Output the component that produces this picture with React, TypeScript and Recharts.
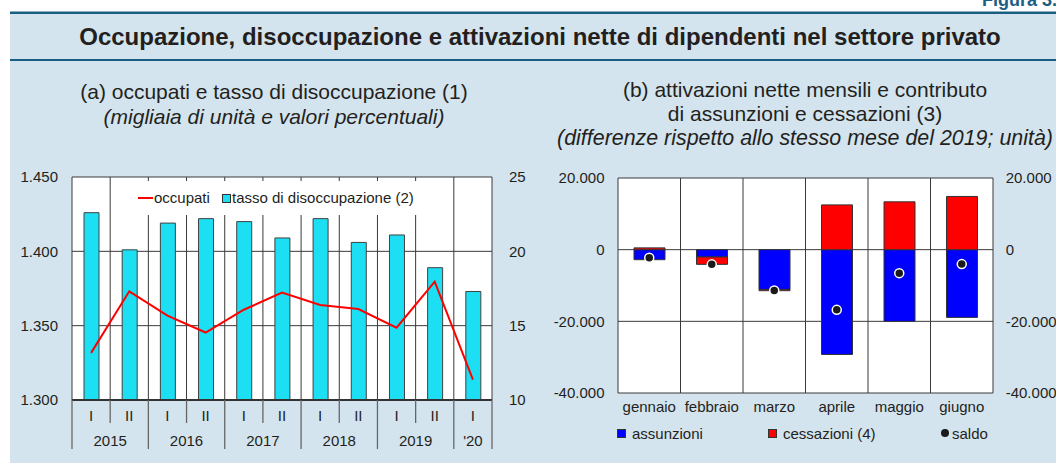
import { Bar, CartesianGrid, ComposedChart, Legend, Line, XAxis, YAxis } from "recharts";

const FONT = "'Liberation Sans', Arial, Helvetica, sans-serif";
const INK = "#231f20";
const TEAL = "#1a5e84";
const PANEL = "#d3e4ee";
const GRID = "#3a3a3a";
const CYAN = "#1ddff3";
const RED = "#ff0000";
const BLUE = "#0000ff";

// (a) semesters
const HALVES = ["I", "II", "I", "II", "I", "II", "I", "II", "I", "II", "I"];
const YEARS = ["2015", "2015", "2016", "2016", "2017", "2017", "2018", "2018", "2019", "2019", "'20"];
const OCCUPATI = [1331.7, 1373.1, 1356.7, 1345.4, 1360.7, 1372.2, 1363.9, 1361.2, 1348.6, 1379.6, 1313.7];
const TASSO = [22.6, 20.1, 21.9, 22.2, 22.0, 20.9, 22.2, 20.6, 21.1, 18.9, 17.3];
const OCC_TICKS = [1300, 1350, 1400, 1450];
const TASSO_TICKS = [10, 15, 20, 25];

// (b) months of 2020
const MONTHS = ["gennaio", "febbraio", "marzo", "aprile", "maggio", "giugno"];
const ASSUNZIONI = [-2800, -2050, -11100, -29250, -20000, -18900];
const CESSAZIONI = [500, -2050, -350, 12500, 13350, 14850];
const SALDO = [-2250, -4100, -11400, -16800, -6550, -4030];
const FLOW_TICKS = [-40000, -20000, 0, 20000];

const leftData = HALVES.map((half, i) => ({
  half,
  year: YEARS[i],
  occupati: OCCUPATI[i],
  tasso: TASSO[i],
}));

const rightData = MONTHS.map((month, i) => ({
  month,
  assunzioni: ASSUNZIONI[i],
  cessazioni: CESSAZIONI[i],
  saldo: SALDO[i],
}));

const fmtIt = (v: number) => {
  const s = Math.abs(v)
    .toString()
    .replace(/\B(?=(\d{3})+(?!\d))/g, ".");
  return (v < 0 ? "-" : "") + s;
};

const tickStyle = { fontSize: 15, fill: INK, fontFamily: FONT };

// boundaries between categories instead of centres
const bandLines = (n: number) => (args: any) => {
  const o = args.offset;
  return Array.from({ length: n + 1 }, (_, i) => o.left + (i * o.width) / n);
};

const L_W = 540;
const L_H = 300;
const L_YL = 72;
const L_YR = 48;
const L_BAND = (L_W - L_YL - L_YR) / HALVES.length;

function HalfTick(props: any) {
  const { x, y, index } = props;
  const startsYear = HALVES[index] === "I";
  const yearLen = YEARS.filter((yy) => yy === YEARS[index]).length;
  const left = x - L_BAND / 2;
  const last = index === HALVES.length - 1;
  return (
    <g>
      <line x1={left} x2={left} y1={y} y2={y + (startsYear ? 49 : 23)} stroke="#666" strokeWidth={1.3} />
      {last && (
        <line x1={x + L_BAND / 2} x2={x + L_BAND / 2} y1={y} y2={y + 49} stroke="#666" strokeWidth={1.3} />
      )}
      <text x={x} y={y + 21} textAnchor="middle" fontSize={15} fontFamily={FONT} fill={INK}>
        {HALVES[index]}
      </text>
      {startsYear && (
        <text
          x={x + ((yearLen - 1) * L_BAND) / 2}
          y={y + 46}
          textAnchor="middle"
          fontSize={15}
          fontFamily={FONT}
          fill={INK}
        >
          {YEARS[index]}
        </text>
      )}
    </g>
  );
}

function LeftLegend() {
  const txt = { position: "absolute" as const, top: 8, lineHeight: "17px", whiteSpace: "nowrap" as const };
  return (
    <div style={{ position: "relative", height: 34, fontFamily: FONT, fontSize: 15, color: INK }}>
      <span style={{ position: "absolute", left: 26, top: 16.3, width: 15, height: 2, background: RED }} />
      <span style={{ ...txt, left: 42 }}>occupati</span>
      <span
        style={{
          position: "absolute",
          left: 109.5,
          top: 13.3,
          width: 7,
          height: 7,
          background: CYAN,
          border: "1px solid #333",
        }}
      />
      <span style={{ ...txt, left: 120 }}>tasso di disoccupazione (2)</span>
    </div>
  );
}

function RightLegend() {
  const txt = { position: "absolute" as const, top: 4.6, lineHeight: "17px", whiteSpace: "nowrap" as const };
  const sq = (left: number, fill: string) => (
    <span
      style={{
        position: "absolute",
        left,
        top: 9,
        width: 7,
        height: 7,
        background: fill,
        border: "1px solid #333",
      }}
    />
  );
  return (
    <div style={{ position: "relative", height: 20, fontFamily: FONT, fontSize: 15, color: INK }}>
      {sq(0.5, BLUE)}
      <span style={{ ...txt, left: 16 }}>assunzioni</span>
      {sq(151.5, RED)}
      <span style={{ ...txt, left: 167 }}>cessazioni (4)</span>
      <span
        style={{ position: "absolute", left: 325, top: 8.6, width: 8, height: 8, borderRadius: 4, background: "#1a1a1a" }}
      />
      <span style={{ ...txt, left: 336 }}>saldo</span>
    </div>
  );
}

function OccupazioneChart() {
  return (
    <ComposedChart
      width={L_W}
      height={L_H}
      data={leftData}
      margin={{ top: 17, right: 0, bottom: 0, left: 0 }}
      barSize={15}
    >
      <CartesianGrid
        yAxisId="occ"
        stroke={GRID}
        fill="#fff"
        verticalCoordinatesGenerator={bandLines(HALVES.length)}
      />
      <XAxis
        dataKey="half"
        interval={0}
        height={60}
        tickSize={0}
        tickMargin={0}
        tickLine={false}
        axisLine={{ stroke: "#333", strokeWidth: 2 }}
        tick={(p: any) => <HalfTick {...p} />}
      />
      <YAxis
        yAxisId="occ"
        domain={[1300, 1450]}
        ticks={OCC_TICKS}
        width={L_YL}
        tickSize={0}
        tickMargin={14}
        axisLine={false}
        tickLine={false}
        tickFormatter={fmtIt}
        tick={tickStyle}
      />
      <YAxis
        yAxisId="tasso"
        orientation="right"
        domain={[10, 25]}
        ticks={TASSO_TICKS}
        width={L_YR}
        tickSize={0}
        tickMargin={17}
        axisLine={false}
        tickLine={false}
        tick={tickStyle}
      />
      <Bar yAxisId="tasso" dataKey="tasso" fill={CYAN} stroke="#404040" strokeWidth={1} isAnimationActive={false} />
      <Line
        yAxisId="occ"
        type="linear"
        dataKey="occupati"
        stroke={RED}
        strokeWidth={2}
        dot={false}
        activeDot={false}
        isAnimationActive={false}
      />
      <Legend
        verticalAlign="middle"
        align="center"
        content={() => <LeftLegend />}
        wrapperStyle={{ left: 112, top: 21, width: 340, height: 34, backgroundColor: "#fff" }}
      />
    </ComposedChart>
  );
}

function AttivazioniChart() {
  return (
    <ComposedChart
      width={516}
      height={300}
      data={rightData}
      margin={{ top: 18, right: 0, bottom: 0, left: 0 }}
      stackOffset="sign"
      barSize={31}
    >
      <CartesianGrid
        yAxisId="l"
        stroke={GRID}
        fill="#fff"
        verticalCoordinatesGenerator={bandLines(MONTHS.length)}
      />
      <XAxis
        dataKey="month"
        interval={0}
        height={67}
        tickSize={0}
        tickMargin={8}
        tickLine={false}
        axisLine={false}
        tick={tickStyle}
      />
      <YAxis
        yAxisId="l"
        domain={[-40000, 20000]}
        ticks={FLOW_TICKS}
        width={78}
        tickSize={0}
        tickMargin={13.5}
        axisLine={false}
        tickLine={false}
        tickFormatter={fmtIt}
        tick={tickStyle}
      />
      <YAxis
        yAxisId="r"
        orientation="right"
        domain={[-40000, 20000]}
        allowDataOverflow
        ticks={FLOW_TICKS}
        width={63}
        tickSize={0}
        tickMargin={12.7}
        axisLine={false}
        tickLine={false}
        tickFormatter={fmtIt}
        tick={{ ...tickStyle, textAnchor: "start" }}
      />
      <Bar yAxisId="l" dataKey="assunzioni" stackId="s" fill={BLUE} stroke="#333" strokeWidth={1} isAnimationActive={false} />
      <Bar yAxisId="l" dataKey="cessazioni" stackId="s" fill={RED} stroke="#333" strokeWidth={1} isAnimationActive={false} />
      <Line
        yAxisId="l"
        dataKey="saldo"
        stroke="none"
        dot={{ r: 4.5, fill: "#1a1a1a", stroke: "#fff", strokeWidth: 1.5 }}
        activeDot={false}
        isAnimationActive={false}
      />
      <Legend
        verticalAlign="middle"
        align="center"
        content={() => <RightLegend />}
        wrapperStyle={{ left: 76, top: 260, width: 380, height: 20 }}
      />
    </ComposedChart>
  );
}

export default function App() {
  return (
    <div style={{ position: "absolute", left: 0, top: 0, width: 1056, height: 463, overflow: "hidden", background: "#fff" }}>
      <svg width={1056} height={463} style={{ position: "absolute", left: 0, top: 0 }}>
        <rect x={10} y={14} width={1046} height={449} fill={PANEL} />
        <rect x={10} y={11.5} width={1046} height={2.5} fill={TEAL} />
        <rect x={10} y={59} width={1046} height={2} fill={TEAL} />
        <text x={982} y={6} fontFamily={FONT} fontWeight="bold" fontSize={18} fill={TEAL}>
          Figura 3.
        </text>
        <text x={540} y={45} textAnchor="middle" fontFamily={FONT} fontWeight="bold" fontSize={24} fill={INK}>
          Occupazione, disoccupazione e attivazioni nette di dipendenti nel settore privato
        </text>
        <g fontFamily={FONT} fontSize={21} fill={INK} textAnchor="middle">
          <text x={274} y={99}>(a) occupati e tasso di disoccupazione (1)</text>
          <text x={274} y={124} fontStyle="italic">
            (migliaia di unità e valori percentuali)
          </text>
          <text x={805} y={97}>(b) attivazioni nette mensili e contributo</text>
          <text x={805} y={121}>di assunzioni e cessazioni (3)</text>
          <text x={805} y={145} fontStyle="italic" fontSize={21.4}>
            (differenze rispetto allo stesso mese del 2019; unità)
          </text>
        </g>
      </svg>
      <div style={{ position: "absolute", left: 0, top: 160 }}>
        <OccupazioneChart />
      </div>
      <div style={{ position: "absolute", left: 540, top: 160 }}>
        <AttivazioniChart />
      </div>
    </div>
  );
}
